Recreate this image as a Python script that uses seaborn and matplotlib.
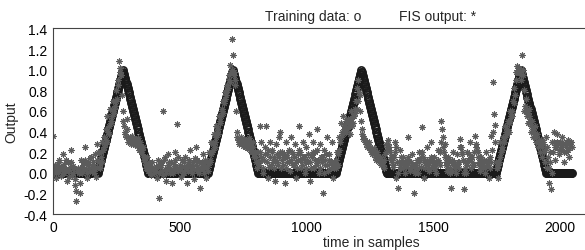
import numpy as np
import matplotlib
matplotlib.use("Agg")
import matplotlib.pyplot as plt
import seaborn as sns
from matplotlib.ticker import FormatStrFormatter

sns.set_style("white")
plt.rcParams["font.family"] = ["Liberation Sans", "DejaVu Sans"]
plt.rcParams["axes.unicode_minus"] = False

# training data, every 2nd sample: flat zero runs and triangle pulses
train_x = np.arange(0, 2048, 2)
ramp_up = [0.0, 0.02, 0.04, 0.06, 0.08, 0.1, 0.12, 0.14, 0.16, 0.18, 0.2,
           0.22, 0.24, 0.26, 0.28, 0.3, 0.32, 0.34, 0.36, 0.38, 0.4,
           0.42, 0.44, 0.46, 0.48, 0.5, 0.52, 0.54, 0.56, 0.58, 0.6,
           0.62, 0.64, 0.66, 0.68, 0.7, 0.72, 0.74, 0.76, 0.78, 0.8,
           0.82, 0.84, 0.86, 0.88, 0.9, 0.92, 0.94, 0.96, 0.98, 1.0]
ramp_down = [0.98, 0.96, 0.94, 0.92, 0.9, 0.88, 0.86, 0.84, 0.82, 0.8,
             0.78, 0.76, 0.74, 0.72, 0.7, 0.68, 0.66, 0.64, 0.62, 0.6,
             0.58, 0.56, 0.54, 0.52, 0.5, 0.48, 0.46, 0.44, 0.42, 0.4,
             0.38, 0.36, 0.34, 0.32, 0.3, 0.28, 0.26, 0.24, 0.22, 0.2,
             0.18, 0.16, 0.14, 0.12, 0.1, 0.08, 0.06, 0.04, 0.02, 0.0]
zero_runs = [88, 116, 152, 214, 50]

train = ([0.0] * zero_runs[0] + ramp_up + ramp_down
         + [0.0] * zero_runs[1] + ramp_up + ramp_down
         + [0.0] * zero_runs[2] + ramp_up + ramp_down
         + [0.0] * zero_runs[3] + ramp_up + ramp_down
         + [0.0] * zero_runs[4])

# FIS output (two interleaved sets of samples)
fis_x_a = np.arange(0, 2050, 5)
fis_x_b = np.arange(2.5, 2050, 5)
fis_a = [
    0.36, 0.05, -0.05, 0.08, 0.02, 0.12, -0.03, 0.06, 0.18, 0.0, 0.04, -0.08, 0.1, 0.03, 0.22, -0.02, 0.07, -0.12, -0.27, 0.02,
    0.05, -0.2, 0.12, 0.0, 0.08, 0.25, 0.04, -0.05, 0.1, 0.02, 0.15, 0.06, 0.0, 0.18, -0.04, 0.28, 0.1, 0.05, 0.2, 0.3,
    0.35, 0.28, 0.42, 0.55, 0.38, 0.62, 0.48, 0.7, 0.58, 0.65, 0.8, 0.9, 1.08, 1.02, 0.95, 0.6, 0.45, 0.38, 0.52, 0.35,
    0.32, 0.3, 0.36, 0.28, 0.33, 0.3, 0.26, 0.34, 0.22, 0.3, 0.18, 0.25, 0.12, 0.05, 0.15, 0.02, 0.08, -0.02, 0.1, 0.04,
    0.0, 0.06, -0.05, 0.12, -0.24, 0.08, 0.02, 0.6, 0.15, -0.08, 0.05, 0.18, 0.0, 0.1, -0.1, 0.04, 0.2, 0.06, 0.47, 0.02,
    0.08, -0.04, 0.12, 0.0, 0.15, 0.05, -0.1, 0.1, 0.22, 0.03, 0.08, -0.06, 0.14, 0.25, 0.02, 0.1, -0.15, 0.06, 0.18, 0.0,
    0.12, -0.05, 0.08, 0.2, 0.1, 0.3, 0.22, 0.38, 0.3, 0.45, 0.42, 0.55, 0.5, 0.62, 0.7, 0.68, 0.78, 0.85, 0.82, 0.95,
    1.05, 1.3, 1.14, 0.98, 0.9, 0.4, 0.32, 0.28, 0.35, 0.3, 0.26, 0.33, 0.28, 0.24, 0.3, 0.34, 0.26, 0.2, 0.3, 0.15,
    0.1, 0.05, 0.2, 0.45, 0.3, 0.12, 0.0, 0.25, 0.45, 0.18, -0.05, 0.3, 0.08, 0.22, 0.15, -0.08, 0.28, 0.1, 0.35, 0.4,
    0.05, 0.2, 0.15, -0.1, 0.3, 0.1, 0.22, 0.02, 0.35, 0.18, 0.08, 0.28, -0.05, 0.12, 0.45, 0.2, 0.05, 0.3, 0.15, 0.0,
    0.25, 0.1, 0.38, -0.08, 0.18, 0.3, 0.05, 0.2, 0.42, 0.12, 0.0, 0.28, 0.15, -0.2, 0.22, 0.08, 0.35, 0.02, 0.18, 0.1,
    0.3, -0.05, 0.1, 0.05, 0.2, 0.08, 0.35, 0.48, 0.4, 0.55, 0.45, 0.5, 0.42, 0.52, 0.38, 0.6, 0.45, 0.55, 0.62, 0.7,
    0.82, 0.9, 0.75, 0.5, 0.38, 0.33, 0.3, 0.28, 0.25, 0.3, 0.22, 0.2, 0.18, 0.24, 0.15, 0.12, 0.2, 0.1, 0.15, 0.08,
    0.1, 0.05, 0.18, 0.28, 0.32, 0.25, 0.2, 0.12, 0.06, 0.15, 0.3, -0.05, -0.15, 0.1, 0.22, 0.05, 0.15, 0.08, 0.0, 0.12,
    0.35, 0.1, 0.02, 0.18, 0.08, -0.2, 0.05, 0.12, 0.0, 0.2, 0.06, 0.44, 0.15, -0.05, 0.1, 0.25, 0.08, 0.02, 0.3, 0.12,
    0.05, 0.15, 0.0, 0.1, 0.22, 0.08, 0.5, 0.42, 0.35, 0.28, 0.1, 0.02, 0.15, 0.05, -0.15, 0.12, 0.2, 0.08, 0.0, 0.18,
    0.05, 0.33, 0.25, 0.18, -0.16, 0.1, 0.0, 0.2, 0.12, 0.3, 0.05, 0.15, 0.08, 0.36, 0.28, 0.2, 0.1, 0.02, 0.15, 0.06,
    0.12, 0.0, 0.2, 0.08, -0.05, 0.15, 0.36, 0.88, 0.57, 0.46, 0.05, -0.05, 0.1, 0.3, 0.22, 0.35, 0.3, 0.45, 0.38, 0.5,
    0.4, 0.6, 0.55, 0.7, 0.82, 0.98, 1.04, 1.0, 1.02, 0.95, 1.14, 1.0, 0.6, 0.72, 0.55, 0.48, 0.62, 0.4, 0.5, 0.35,
    0.45, 0.3, 0.38, 0.25, 0.2, 0.32, 0.15, 0.28, 0.1, 0.35, 0.05, -0.1, 0.2, -0.16, 0.3, 0.4, 0.12, 0.25, 0.38, 0.18,
    0.3, 0.22, 0.35, 0.1, 0.28, 0.2, 0.32, 0.15, 0.25, 0.3,
]
fis_b = [
    0.02, 0.08, 0.0, 0.05, 0.1, 0.03, 0.06, 0.0, 0.09, 0.04, 0.12, 0.02, -0.04, 0.06, 0.1, 0.0, 0.05, -0.06, -0.18, 0.04,
    0.0, -0.1, 0.06, 0.1, 0.03, 0.12, 0.0, 0.08, 0.05, 0.14, 0.02, 0.1, 0.07, 0.04, 0.12, 0.2, 0.06, 0.15, 0.1, 0.22,
    0.25, 0.32, 0.3, 0.4, 0.45, 0.5, 0.55, 0.6, 0.62, 0.7, 0.72, 0.85, 0.98, 0.95, 0.75, 0.5, 0.4, 0.35, 0.42, 0.3,
    0.35, 0.28, 0.3, 0.33, 0.27, 0.32, 0.3, 0.28, 0.25, 0.2, 0.22, 0.15, 0.1, 0.08, 0.05, 0.1, 0.0, 0.04, 0.06, 0.02,
    0.05, 0.02, 0.08, 0.0, 0.06, 0.1, -0.02, 0.12, 0.04, 0.0, 0.08, 0.1, 0.05, 0.02, 0.0, 0.09, 0.12, 0.03, 0.15, 0.05,
    0.03, 0.06, 0.0, 0.1, 0.05, 0.08, 0.02, 0.12, 0.06, 0.0, 0.1, 0.04, 0.08, 0.12, 0.05, 0.0, 0.06, 0.1, 0.04, 0.08,
    0.05, 0.1, 0.02, 0.12, 0.18, 0.2, 0.28, 0.25, 0.35, 0.4, 0.38, 0.48, 0.55, 0.6, 0.58, 0.72, 0.75, 0.8, 0.9, 0.88,
    0.98, 1.0, 0.95, 0.85, 0.6, 0.35, 0.3, 0.33, 0.3, 0.28, 0.32, 0.3, 0.25, 0.3, 0.28, 0.22, 0.3, 0.25, 0.18, 0.2,
    0.15, 0.1, 0.08, 0.2, 0.15, 0.05, 0.12, 0.18, 0.1, 0.22, 0.06, 0.15, 0.2, 0.1, 0.05, 0.12, 0.18, 0.08, 0.15, 0.2,
    0.12, 0.08, 0.18, 0.05, 0.15, 0.2, 0.1, 0.12, 0.2, 0.08, 0.15, 0.1, 0.05, 0.18, 0.22, 0.12, 0.08, 0.15, 0.1, 0.05,
    0.12, 0.18, 0.1, 0.05, 0.15, 0.2, 0.12, 0.08, 0.22, 0.1, 0.05, 0.15, 0.1, 0.0, 0.12, 0.18, 0.08, 0.12, 0.1, 0.05,
    0.1, 0.05, 0.08, 0.12, 0.18, 0.22, 0.3, 0.35, 0.38, 0.42, 0.45, 0.4, 0.48, 0.45, 0.5, 0.52, 0.48, 0.55, 0.58, 0.62,
    0.7, 0.78, 0.6, 0.42, 0.36, 0.34, 0.32, 0.3, 0.28, 0.26, 0.25, 0.22, 0.2, 0.2, 0.18, 0.15, 0.14, 0.12, 0.1, 0.1,
    0.08, 0.12, 0.2, 0.25, 0.28, 0.22, 0.15, 0.1, 0.08, 0.2, 0.25, 0.1, 0.0, 0.06, 0.15, 0.1, 0.05, 0.1, 0.06, 0.08,
    0.15, 0.05, 0.1, 0.08, 0.02, 0.0, 0.08, 0.05, 0.1, 0.12, 0.15, 0.2, 0.1, 0.05, 0.08, 0.12, 0.05, 0.1, 0.15, 0.08,
    0.1, 0.05, 0.08, 0.12, 0.1, 0.2, 0.3, 0.25, 0.2, 0.15, 0.08, 0.05, 0.1, 0.0, 0.02, 0.08, 0.1, 0.05, 0.08, 0.1,
    0.1, 0.25, 0.2, 0.12, 0.0, 0.05, 0.08, 0.12, 0.18, 0.15, 0.1, 0.08, 0.2, 0.25, 0.22, 0.15, 0.08, 0.05, 0.1, 0.08,
    0.05, 0.1, 0.08, 0.12, 0.05, 0.1, 0.22, 0.4, 0.3, 0.1, 0.05, 0.08, 0.15, 0.2, 0.25, 0.3, 0.35, 0.4, 0.42, 0.48,
    0.5, 0.55, 0.6, 0.68, 0.75, 0.9, 0.98, 1.02, 0.98, 0.9, 0.95, 0.8, 0.65, 0.6, 0.58, 0.55, 0.5, 0.45, 0.42, 0.4,
    0.38, 0.35, 0.3, 0.32, 0.28, 0.25, 0.3, 0.2, 0.22, 0.25, 0.15, 0.05, 0.1, 0.0, 0.2, 0.3, 0.25, 0.3, 0.28, 0.22,
    0.25, 0.3, 0.28, 0.2, 0.25, 0.3, 0.22, 0.28, 0.3, 0.25,
]
fis_x = np.concatenate([fis_x_a, fis_x_b])
fis = fis_a + fis_b

yticks = [-0.4, -0.2, 0.0, 0.2, 0.4, 0.6, 0.8, 1.0, 1.2, 1.4]
xticks = [0, 500, 1000, 1500, 2000]

fig = plt.figure(figsize=(5.85, 2.51), dpi=100)
ax = fig.add_axes([0.0906, 0.1434, 0.9094, 0.7391])

sns.lineplot(x=train_x, y=train, ax=ax, estimator=None, sort=False,
             linestyle="none", marker="o", markersize=5.2,
             markerfacecolor="none", markeredgecolor="#1a1a1a",
             markeredgewidth=1.2, color="#1a1a1a")
sns.lineplot(x=fis_x, y=fis, ax=ax, estimator=None, sort=False,
             linestyle="none", marker=(8, 2, 0), markersize=4.3,
             markeredgecolor="#5c5c5c", markeredgewidth=0.75, color="#5c5c5c")

ax.set_xlim(0, 2099)
ax.set_ylim(-0.4, 1.4)
ax.set_xticks(xticks)
ax.set_yticks(yticks)
ax.yaxis.set_major_formatter(FormatStrFormatter("%.1f"))
ax.tick_params(direction="in", length=4, width=0.8, colors="#333333",
               labelcolor="black", labelsize=10, pad=4)
ax.spines["right"].set_visible(False)
for side in ["left", "bottom", "top"]:
    ax.spines[side].set_color("#444444")
    ax.spines[side].set_linewidth(0.8)

ax.set_xlabel("time in samples", fontsize=10, va="top")
ax.xaxis.set_label_coords(0.598, -0.113)
ax.set_ylabel("Output", fontsize=10, va="center")
ax.yaxis.set_label_coords(-0.079, 0.5)

fig.text(265 / 585, 1 - 20.5 / 251, "Training data: o", fontsize=10,
         ha="left", va="baseline")
fig.text(399 / 585, 1 - 20.5 / 251, "FIS output: *", fontsize=10,
         ha="left", va="baseline")

fig.savefig("out.png", dpi=100)
